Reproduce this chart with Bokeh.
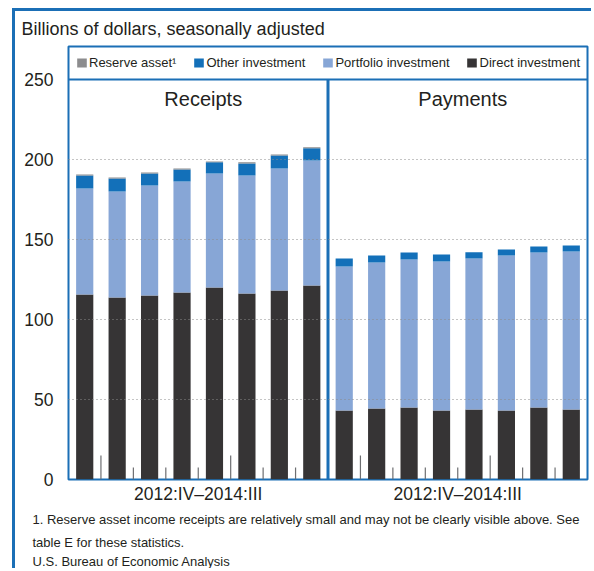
from bokeh.plotting import figure
from bokeh.models import (ColumnDataSource, Range1d, FixedTicker, Legend, LegendItem,
                          Span, Title)
from bokeh.embed import file_html
from bokeh.resources import INLINE

# ---------------- data ----------------
quarters = ["2012:IV", "2013:I", "2013:II", "2013:III", "2013:IV", "2014:I", "2014:II", "2014:III"]
panels = ["Receipts", "Payments"]
series_names = ["Direct investment", "Portfolio investment", "Other investment", "Reserve asset\u00b9"]

receipts_direct = [115.6, 113.8, 115.0, 116.9, 120.0, 116.2, 118.1, 121.2]
receipts_portfolio = [66.3, 66.2, 68.7, 69.4, 71.2, 73.8, 76.3, 78.2]
receipts_other = [8.1, 8.1, 7.5, 7.5, 7.1, 7.5, 8.1, 7.7]
receipts_reserve = [0.6, 0.7, 0.6, 0.6, 0.5, 0.8, 0.6, 0.6]

payments_direct = [43.1, 44.4, 45.0, 43.1, 43.8, 43.1, 45.0, 43.8]
payments_portfolio = [90.0, 91.2, 92.5, 93.1, 94.4, 96.9, 96.9, 98.7]
payments_other = [5.0, 4.4, 4.4, 4.4, 3.8, 3.8, 3.7, 3.8]
payments_reserve = [0.0, 0.0, 0.0, 0.0, 0.0, 0.0, 0.0, 0.0]

y_ticks = [0, 50, 100, 150, 200, 250]
grid_ticks = [50, 100, 150, 200]

title_text = "Billions of dollars, seasonally adjusted"
footnote_1 = "1. Reserve asset income receipts are relatively small and may not be clearly visible above. See"
footnote_2 = "table E for these statistics."
source_text = "U.S. Bureau of Economic Analysis"

# ---------------- styles ----------------
DIRECT = "#363435"
PORT = "#87a6d6"
OTHER = "#1370b9"
RESERVE = "#8c8c8e"
BLUE = "#1b6fb6"
TEXT = "#231f20"
GRID = "#8a8a8a"
TICK = "#6d6e71"
FONT = "Liberation Sans"

n = len(quarters)
x_receipts = [i + 0.5 for i in range(n)]
x_payments = [n + i + 0.5 for i in range(n)]

src = ColumnDataSource(dict(
    x=x_receipts + x_payments,
    direct=receipts_direct + payments_direct,
    portfolio=receipts_portfolio + payments_portfolio,
    other=receipts_other + payments_other,
    reserve=receipts_reserve + payments_reserve,
))

# canvas sits at page (15, 11) because of the css margin + border
W, H = 579, 560
ML, MR, MT = 53, 7, 35
FRAME_H = 433
MB = H - MT - FRAME_H
px_per_unit = 1.6
y_top = FRAME_H / px_per_unit

p = figure(width=W, height=H, output_backend="svg", toolbar_location=None,
           x_range=Range1d(0, 2 * n), y_range=Range1d(0, y_top),
           min_border_left=ML, min_border_right=MR, min_border_top=MT, min_border_bottom=MB,
           background_fill_color="white", border_fill_color="white")
p.styles = {"margin-left": "12px", "margin-top": "8px",
            "border-top": f"3px solid {BLUE}", "border-left": f"3px solid {BLUE}"}

p.outline_line_color = BLUE
p.outline_line_width = 2
p.outline_line_alpha = 1

rends = p.vbar_stack(["direct", "portfolio", "other", "reserve"], x="x", width=0.53,
                     color=[DIRECT, PORT, OTHER, RESERVE], line_color=None, source=src)

# small ticks between quarters (long at year boundaries)
tx, ty = [], []
for base in (0, n):
    for i in range(1, n):
        tx.append(base + i)
        ty.append(15 if quarters[i].endswith(":I") else 7.5)
p.segment(x0=tx, y0=[0] * len(tx), x1=tx, y1=ty, line_color=TICK, line_width=1.2)

# panel divider and legend separator
p.segment(x0=[n], y0=[0], x1=[n], y1=[y_ticks[-1]], line_color=BLUE, line_width=3)
p.add_layout(Span(location=y_ticks[-1], dimension="width", line_color=BLUE, line_width=2))

# panel titles
p.text(x=[n / 2, n + n / 2], y=[238, 238], text=panels, text_align="center",
       text_baseline="middle", text_font_size="20px", text_color=TEXT,
       text_font={"value": FONT}, x_offset=5)

# grid
p.xgrid.visible = False
p.ygrid.ticker = FixedTicker(ticks=grid_ticks)
p.ygrid.grid_line_color = GRID
p.ygrid.grid_line_dash = "1 3"
p.ygrid.grid_line_width = 1
p.ygrid.level = "overlay"

# axes
p.yaxis.ticker = FixedTicker(ticks=y_ticks)
p.yaxis.axis_line_color = None
p.yaxis.major_tick_line_color = None
p.yaxis.minor_tick_line_color = None
p.yaxis.major_label_text_font_size = "17.5px"
p.yaxis.major_label_text_font = FONT
p.yaxis.major_label_text_color = TEXT
p.yaxis.major_label_standoff = 9

span_label = f"{quarters[0]}\u2013{quarters[-1]}"
p.xaxis.ticker = FixedTicker(ticks=[n / 2, n + n / 2])
p.xaxis.major_label_overrides = {n / 2: span_label, n + n / 2: span_label}
p.xaxis.axis_line_color = None
p.xaxis.major_tick_line_color = None
p.xaxis.minor_tick_line_color = None
p.xaxis.major_label_text_font_size = "17.5px"
p.xaxis.major_label_text_font = FONT
p.xaxis.major_label_text_color = TEXT
p.xaxis.major_label_standoff = -2

# legend (reserve, other, portfolio, direct)
items = [LegendItem(label=series_names[k], renderers=[rends[k]]) for k in (3, 2, 1, 0)]
legend = Legend(items=items, orientation="horizontal", location="top_center",
                glyph_width=12, glyph_height=11, label_standoff=2, spacing=16,
                padding=6, margin=9, border_line_color=None, background_fill_alpha=0,
                label_text_font_size="13px", label_text_font=FONT, label_text_color=TEXT)
p.add_layout(legend)

# heading and footnotes as titles
def ttl(text, size, standoff, offset, valign):
    return Title(text=text, align="left", offset=offset, standoff=standoff,
                 vertical_align=valign, text_baseline=valign,
                 text_font_size=size, text_font=FONT, text_color=TEXT,
                 text_font_style="normal")

p.add_layout(ttl(title_text, "18px", 12, -47, "top"), "above")
p.add_layout(ttl(footnote_1, "13px", 8, -36, "middle"), "below")
p.add_layout(ttl(footnote_2, "13px", 4, -36, "middle"), "below")
p.add_layout(ttl(source_text, "13px", 0, -36, "middle"), "below")

open("out.html", "w").write(file_html(p, INLINE))
